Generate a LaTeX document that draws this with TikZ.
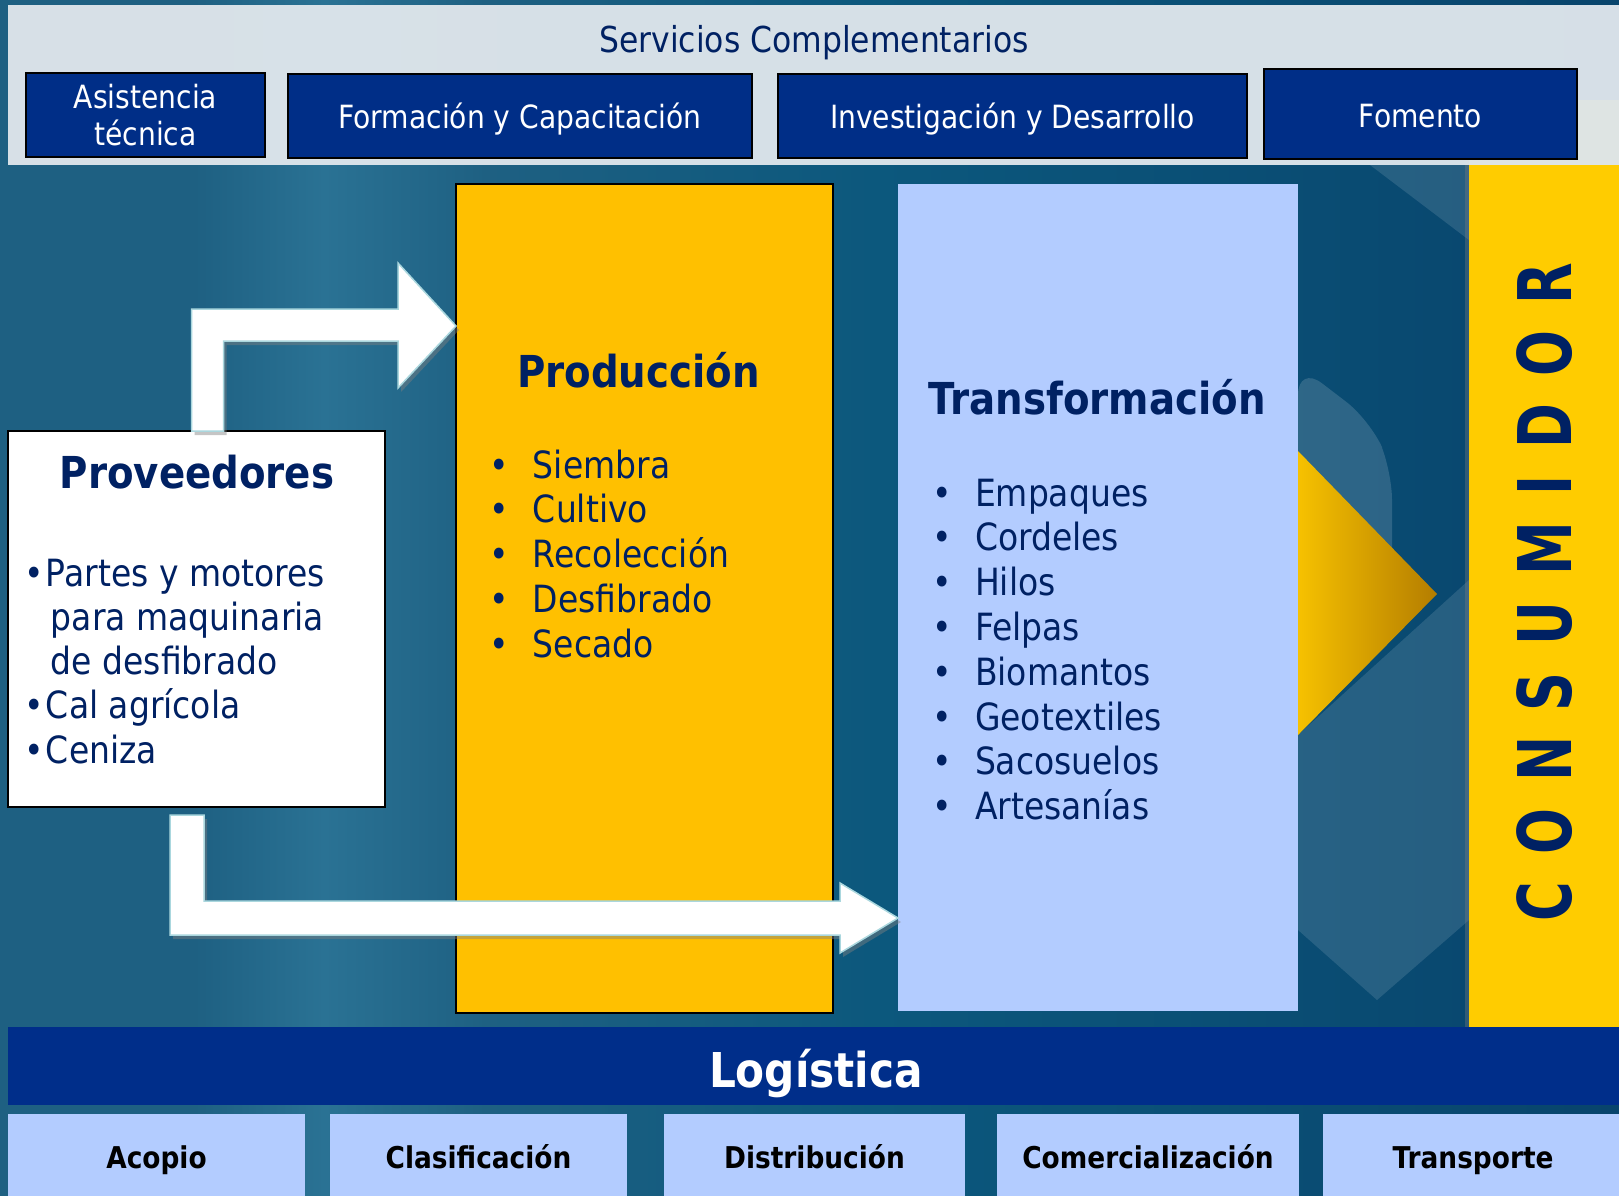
\documentclass[tikz,border=0pt]{standalone}
\usepackage{fontspec}
\setmainfont{DejaVu Sans}[FakeStretch=0.88]
\usetikzlibrary{positioning,shadows,calc}

\definecolor{navybox}{RGB}{0,46,135}
\definecolor{navytext}{RGB}{0,33,99}
\definecolor{panelgray}{RGB}{221,229,235}
\definecolor{prodyellow}{RGB}{255,192,0}
\definecolor{transblue}{RGB}{179,204,255}
\definecolor{consyellow}{RGB}{255,204,0}
\definecolor{logblue}{RGB}{0,46,138}
\definecolor{subblue}{RGB}{179,204,255}
\definecolor{arrowedge}{RGB}{170,215,222}
\definecolor{triA}{RGB}{246,193,0}
\definecolor{triB}{RGB}{180,125,0}
\definecolor{bgA}{RGB}{30,96,130}
\definecolor{bgB}{RGB}{42,114,148}
\definecolor{bgC}{RGB}{12,88,125}
\definecolor{bgD}{RGB}{8,68,108}

\pgfdeclarehorizontalshading{bgstreak}{100bp}{color(0bp)=(bgA); color(25bp)=(bgA);
  color(31bp)=(bgA); color(35bp)=(bgB); color(40bp)=(bgA); color(52bp)=(bgC);
  color(75bp)=(bgD); color(100bp)=(bgD)}

\newcommand{\itembul}[1]{\makebox[#1][l]{\textbullet}}

\begin{document}
\begin{tikzpicture}[
  x=1pt, y=-1pt,
  every node/.style={inner sep=0pt, outer sep=0pt},
  panelbox/.style={fill=panelgray, opacity=0.97},
  topbox/.style={draw=black, line width=2pt, fill=navybox, text=white, align=center,
    font=\fontsize{32}{37}\selectfont},
  heading/.style={text=navytext, font=\fontsize{44}{50}\selectfont\bfseries},
  itemlist/.style={text=navytext, font=\fontsize{37.5}{44.8}\selectfont},
  blockarrow/.style={fill=white, draw=arrowedge, line width=1.5pt,
    drop shadow={opacity=0.45, shadow xshift=3pt, shadow yshift=-4pt}},
  subbox/.style={fill=subblue, text=black, text height=22pt, text depth=0pt,
    font=\fontsize{30}{30}\selectfont\bfseries},
  consletter/.style={rotate=90, xscale=0.83, text=navytext,
    font=\fontsize{74}{74}\selectfont\bfseries}
]
\useasboundingbox (0,0) rectangle (1619,1195);

% fondo
\shade[shading=bgstreak] (0,0) rectangle (1619,1195);
\fill[white, opacity=0.12] (1298,735) -- (1469,580) -- (1469,920) -- (1377,1000) -- (1298,930) -- cycle;
\fill[white, opacity=0.15, rounded corners=30pt] (1298,365) -- (1370,420) -- (1392,470) -- (1392,600) -- (1298,660) -- cycle;
\fill[white, opacity=0.12] (1370,165) -- (1469,165) -- (1469,240) -- cycle;

% Consumidor (barra derecha)
\node[fill=consyellow, rounded corners=25pt, anchor=north west, minimum width=200, minimum height=960,
  drop shadow={shadow xshift=-4pt, shadow yshift=0pt, opacity=0.35}] (consbar) at (1469,100) {};

% Servicios complementarios
\node[panelbox, anchor=north west, minimum width=1611, minimum height=160] (serv) at (8,5) {};
\node[text=navytext, font=\fontsize{35.7}{40}\selectfont, anchor=base] (servtitle) at (814,52) {Servicios Complementarios};

\node[topbox, anchor=north west, minimum width=239, minimum height=84] (asist) at (26,73) {Asistencia\\técnica};
\node[topbox, text height=24pt, text depth=0pt, anchor=north west, minimum width=464, minimum height=84] (forma) at (288,74) {Formación y Capacitación};
\node[topbox, text height=24pt, text depth=0pt, anchor=north west, minimum width=469, minimum height=84] (invest) at (778,74) {Investigación y Desarrollo};
\node[topbox, text height=26pt, text depth=0pt, anchor=north west, minimum width=313, minimum height=90] (fomento) at (1264,69) {Fomento};

% Proveedores
\node[draw=black, line width=2.5pt, fill=white, anchor=north west, minimum width=377, minimum height=376] (prov) at (8,431) {};
\node[heading, anchor=base] (provtitle) at (197,488) {Proveedores};
\node[itemlist, font=\fontsize{37.5}{44.3}\selectfont, anchor=base west] (provlist) at (24.4,586) {\begin{tabular}[t]{@{}l@{}}
  \itembul{21.6pt}Partes y motores\\
  \hspace{26.6pt}para maquinaria\\
  \hspace{26.6pt}de desfibrado\\
  \itembul{21.6pt}Cal agrícola\\
  \itembul{21.6pt}Ceniza
\end{tabular}};

% Produccion
\node[draw=black, line width=2.5pt, fill=prodyellow, anchor=north west, minimum width=377, minimum height=829] (prod) at (456,184) {};
\node[heading, anchor=base] (prodtitle) at (638.5,387) {Producción};
\node[itemlist, anchor=base west] (prodlist) at (489.4,478) {\begin{tabular}[t]{@{}l@{}}
  \itembul{43.6pt}Siembra\\
  \itembul{43.6pt}Cultivo\\
  \itembul{43.6pt}Recolección\\
  \itembul{43.6pt}Desfibrado\\
  \itembul{43.6pt}Secado
\end{tabular}};

% Transformacion
\node[fill=transblue, anchor=north west, minimum width=400, minimum height=827] (trans) at (898,184) {};
\node[heading, anchor=base] (transtitle) at (1097,414) {Transformación};
\node[itemlist, anchor=base west] (translist) at (932.4,506) {\begin{tabular}[t]{@{}l@{}}
  \itembul{42.6pt}Empaques\\
  \itembul{42.6pt}Cordeles\\
  \itembul{42.6pt}Hilos\\
  \itembul{42.6pt}Felpas\\
  \itembul{42.6pt}Biomantos\\
  \itembul{42.6pt}Geotextiles\\
  \itembul{42.6pt}Sacosuelos\\
  \itembul{42.6pt}Artesanías
\end{tabular}};

% flecha hacia el consumidor
\shade[left color=triA, right color=triB] (trans.east |- 0,451) -- (1437,594) -- (trans.east |- 0,735) -- cycle;

% Flechas de proveedores
\coordinate (uptip) at ($(prod.north west)+(0,142)$);
\coordinate (lotip) at ($(trans.north west)+(0,734)$);
\draw[blockarrow] ([xshift=-5]prov.north) |- ($(uptip)+(-58,-17)$) -- ++(0,-46) -- (uptip)
  -- ++(-58,62) -- ++(0,-47) -| ([xshift=27]prov.north) -- cycle;
\draw[blockarrow] ([xshift=-26.5,yshift=-8]prov.south) |- ($(lotip)+(-58,17)$) -- ++(0,18) -- (lotip)
  -- ++(-58,-35) -- ++(0,18) -| ([xshift=7.5,yshift=-8]prov.south) -- cycle;

% Logistica
\node[fill=logblue, anchor=north west, minimum width=1611, minimum height=78] (logbar) at (8,1027) {};
\node[text=white, font=\fontsize{48}{50}\selectfont\bfseries, anchor=base] (loglabel) at (816,1087) {Logística};
\foreach \name/\x/\w/\txt in {acopio/8/297/Acopio, clasif/330/297/Clasificación,
    distrib/664/301/Distribución, comerc/997/302/Comercialización, transp/1323/300/Transporte}
  \node[subbox, anchor=north west, minimum width=\w, minimum height=86] (\name) at (\x,1114) {\txt};

% CONSUMIDOR
\foreach \l/\y [count=\i] in {C/902,O/832,N/759,S/692,U/624,M/549,I/485,D/426,O/354,R/284}
  \node[consletter] (cons\i) at (1545,\y) {\l};

\end{tikzpicture}
\end{document}
